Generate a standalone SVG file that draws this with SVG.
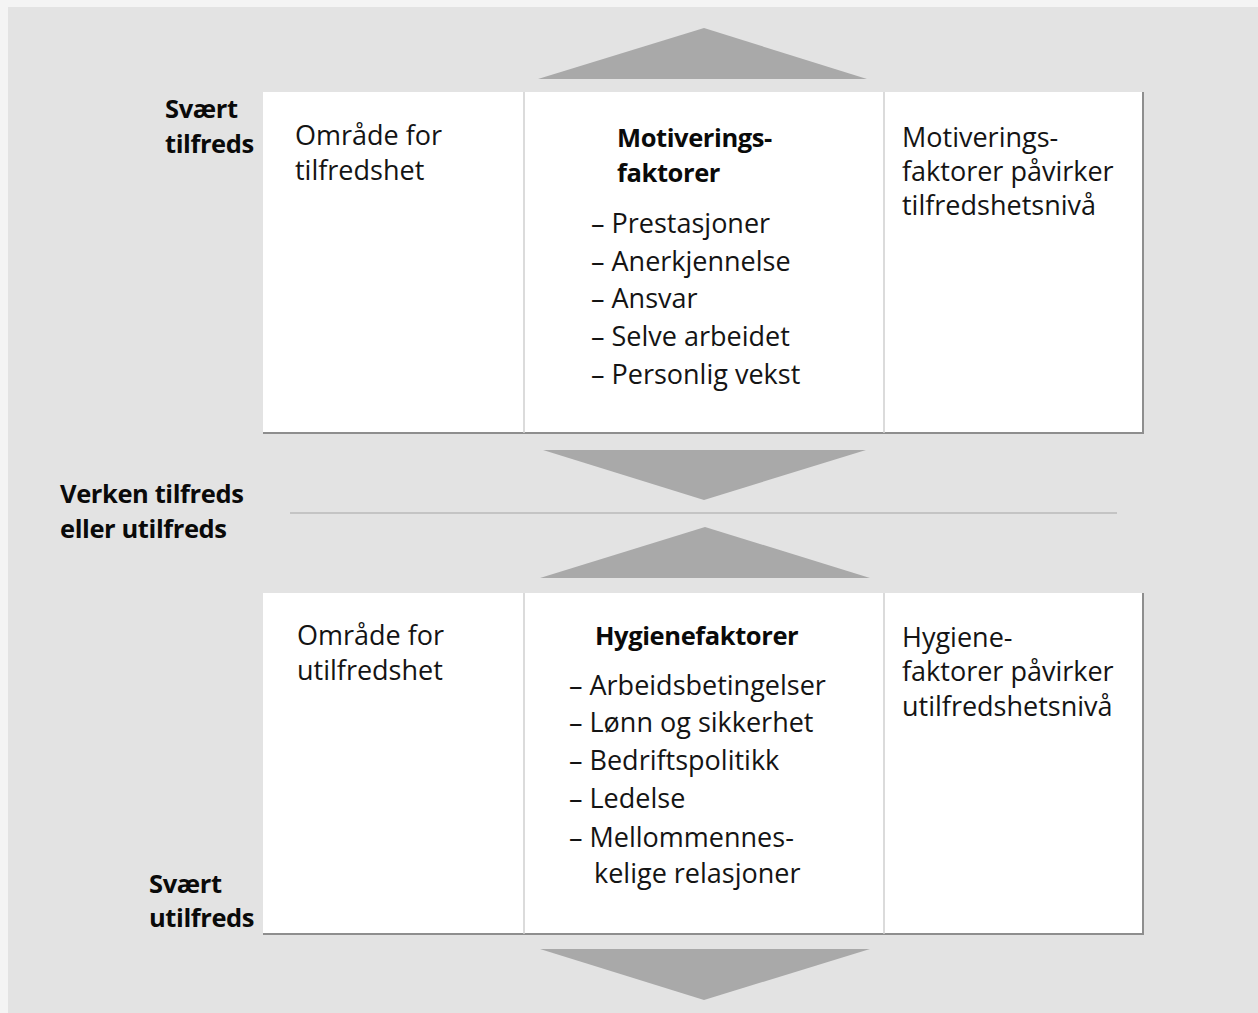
<svg xmlns="http://www.w3.org/2000/svg" width="1258" height="1013" viewBox="0 0 1258 1013">
  <style>
    .bg { fill: #e3e3e3; }
    .panel { fill: #ffffff; }
    .edge { stroke: #8e8e8e; stroke-width: 2; fill: none; }
    .div { stroke: #cfcfcf; stroke-width: 1.5; }
    .arrow { fill: #a9a9a9; }
    .t { font-family: "Open Sans", "Lato", "Liberation Sans", sans-serif; font-size: 27px; fill: #141414; }
    .b { font-family: "Open Sans", "Lato", "Liberation Sans", sans-serif; font-size: 25.5px; font-weight: bold; letter-spacing: -0.4px; fill: #0a0a0a; }
  </style>
  <rect x="0" y="0" width="1258" height="1013" fill="#f4f4f4"/>
  <rect class="bg" x="8" y="7" width="1250" height="1006"/>
  <line x1="290" y1="513" x2="1117" y2="513" stroke="#c4c4c4" stroke-width="2"/>

  <g id="connectors">
    <polygon class="arrow" points="538,79 867,79 704,28"/>
    <polygon class="arrow" points="543,450 866,450 704,500"/>
    <polygon class="arrow" points="540,578 870,578 705,527"/>
    <polygon class="arrow" points="540,949 870,949 704,1000"/>
  </g>

  <g id="scale-top">
    <text class="b" x="165" y="118">Svært</text>
    <text class="b" x="165" y="153">tilfreds</text>
  </g>
  <g id="scale-middle">
    <text class="b" x="60" y="503">Verken tilfreds</text>
    <text class="b" x="60" y="538">eller utilfreds</text>
  </g>
  <g id="scale-bottom">
    <text class="b" x="149" y="893">Svært</text>
    <text class="b" x="149" y="927">utilfreds</text>
  </g>

  <g id="box-satisfaction">
    <rect class="panel" x="263" y="92" width="880" height="341"/>
    <polyline class="edge" points="263,433 1143,433 1143,92"/>
    <line class="div" x1="524" y1="92" x2="524" y2="433"/>
    <line class="div" x1="884" y1="92" x2="884" y2="433"/>
  </g>
  <g id="cell-area-satisfaction">
    <text class="t" x="295" y="145">Område for</text>
    <text class="t" x="295" y="180">tilfredshet</text>
  </g>
  <g id="cell-motivators">
    <text class="b" x="617" y="147">Motiverings-</text>
    <text class="b" x="617" y="182">faktorer</text>
    <text class="t" x="591" y="233">– Prestasjoner</text>
    <text class="t" x="591" y="271">– Anerkjennelse</text>
    <text class="t" x="591" y="308">– Ansvar</text>
    <text class="t" x="591" y="346">– Selve arbeidet</text>
    <text class="t" x="591" y="384">– Personlig vekst</text>
  </g>
  <g id="cell-motivators-effect">
    <text class="t" x="902" y="147">Motiverings-</text>
    <text class="t" x="902" y="181">faktorer påvirker</text>
    <text class="t" x="902" y="215">tilfredshetsnivå</text>
  </g>

  <g id="box-dissatisfaction">
    <rect class="panel" x="263" y="593" width="880" height="341"/>
    <polyline class="edge" points="263,934 1143,934 1143,593"/>
    <line class="div" x1="524" y1="593" x2="524" y2="934"/>
    <line class="div" x1="884" y1="593" x2="884" y2="934"/>
  </g>
  <g id="cell-area-dissatisfaction">
    <text class="t" x="297" y="645">Område for</text>
    <text class="t" x="297" y="680">utilfredshet</text>
  </g>
  <g id="cell-hygiene">
    <text class="b" x="595" y="645">Hygienefaktorer</text>
    <text class="t" x="569" y="695">– Arbeidsbetingelser</text>
    <text class="t" x="569" y="732">– Lønn og sikkerhet</text>
    <text class="t" x="569" y="770">– Bedriftspolitikk</text>
    <text class="t" x="569" y="808">– Ledelse</text>
    <text class="t" x="569" y="847">– Mellommennes-</text>
    <text class="t" x="594" y="883">kelige relasjoner</text>
  </g>
  <g id="cell-hygiene-effect">
    <text class="t" x="902" y="647">Hygiene-</text>
    <text class="t" x="902" y="681">faktorer påvirker</text>
    <text class="t" x="902" y="716">utilfredshetsnivå</text>
  </g>
</svg>
